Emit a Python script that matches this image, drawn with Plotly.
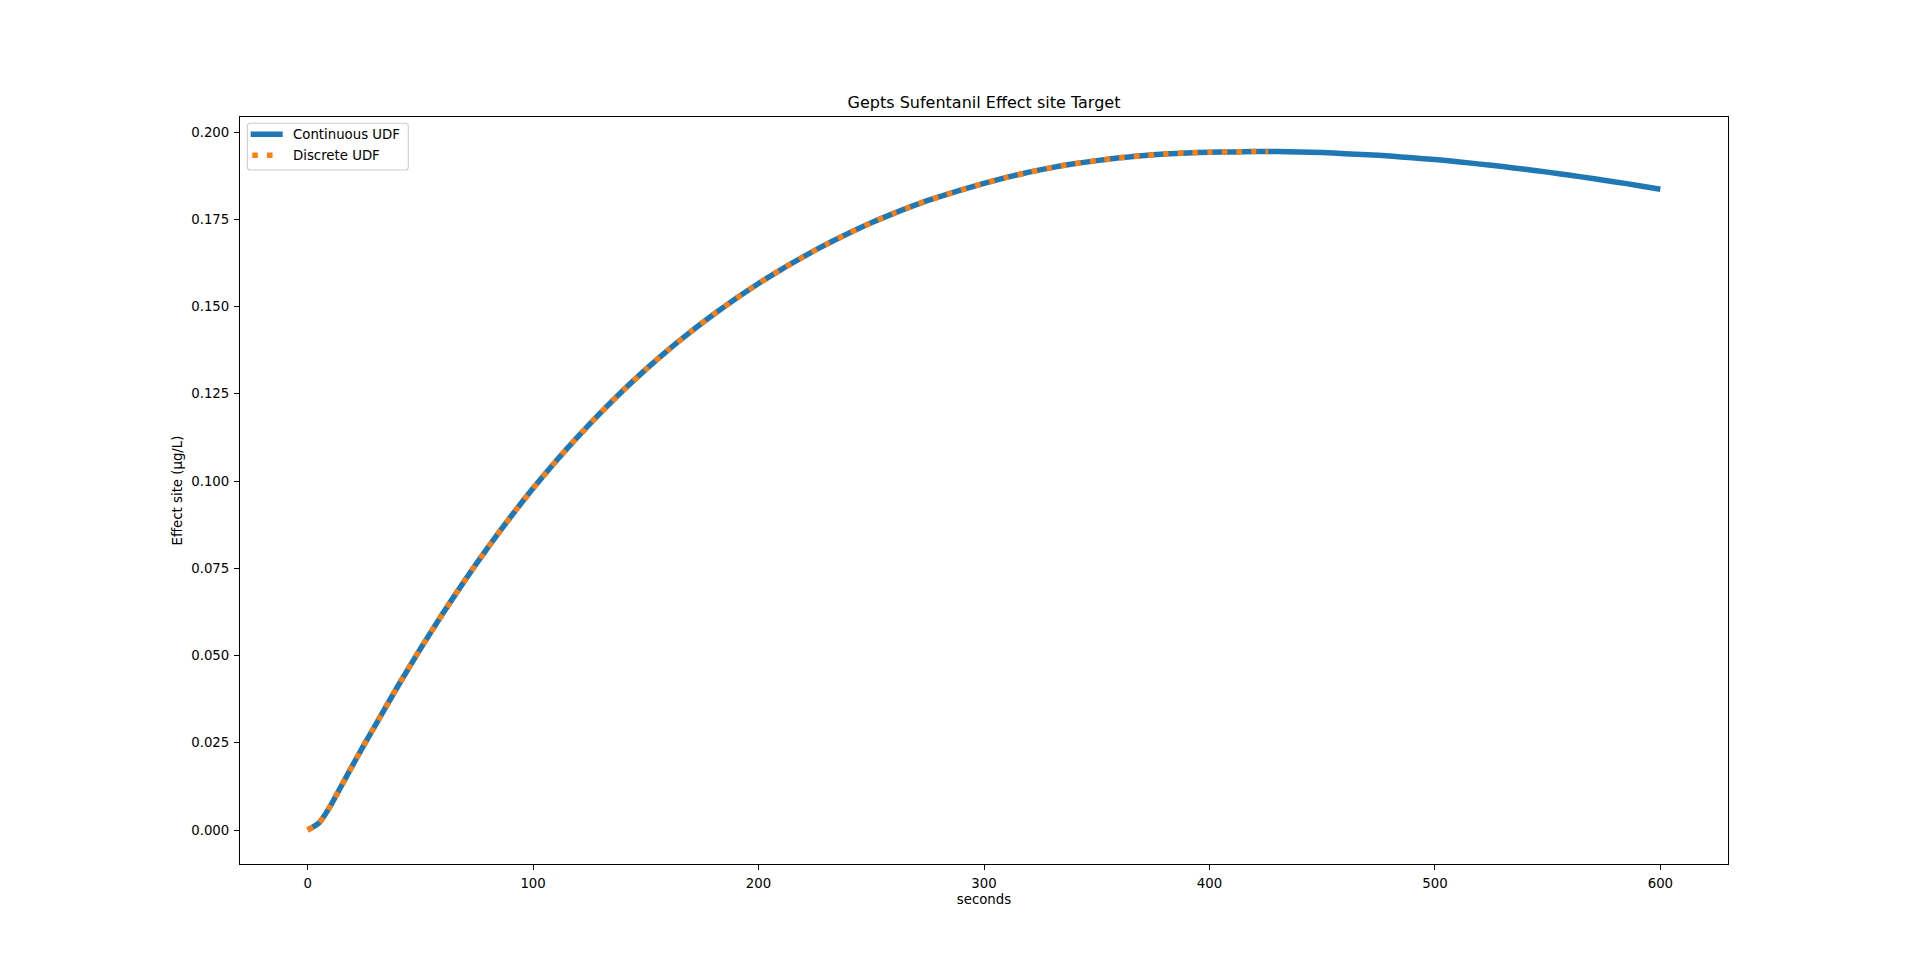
import plotly.graph_objects as go

# ---- data ----
cont_t = [0, 5, 10, 15, 20, 25, 30, 40, 50, 60, 70, 80, 90, 100, 110, 120, 130, 140, 150,
          160, 170, 180, 190, 200, 210, 220, 230, 240, 250, 260, 270, 280, 290, 300,
          310, 320, 330, 340, 350, 360, 370, 380, 390, 400, 410, 420, 430, 440, 450,
          460, 470, 480, 490, 500, 510, 520, 530, 540, 550, 560, 570, 580, 590, 600]
cont_c = [0.0, 0.0020, 0.0068, 0.0127, 0.0186, 0.0244, 0.0300, 0.0412, 0.0519, 0.0621,
          0.0718, 0.0810, 0.0897, 0.0979, 0.1056, 0.1128, 0.1196, 0.1260, 0.1320,
          0.1376, 0.1428, 0.1477, 0.1523, 0.1566, 0.1606, 0.1643, 0.1678, 0.1710, 0.1740,
          0.1767, 0.1792, 0.1814, 0.1834, 0.1853, 0.1870, 0.1885, 0.1898, 0.1909, 0.1918,
          0.1926, 0.1932, 0.1937, 0.1940, 0.1942, 0.1943, 0.1944, 0.1944, 0.1943, 0.1941,
          0.1938, 0.1935, 0.1931, 0.1926, 0.1921, 0.1915, 0.1908, 0.1901, 0.1893, 0.1885,
          0.1876, 0.1867, 0.1857, 0.1847, 0.1836]

disc_t = [0, 5, 10, 15, 20, 25, 30, 40, 50, 60, 70, 80, 90, 100, 110, 120, 130, 140, 150,
          160, 170, 180, 190, 200, 210, 220, 230, 240, 250, 260, 270, 280, 290, 300,
          310, 320, 330, 340, 350, 360, 370, 380, 390, 400, 410, 420, 426]
disc_c = [0.0, 0.0020, 0.0068, 0.0127, 0.0186, 0.0244, 0.0300, 0.0412, 0.0519, 0.0621,
          0.0718, 0.0810, 0.0897, 0.0979, 0.1056, 0.1128, 0.1196, 0.1260, 0.1320,
          0.1376, 0.1428, 0.1477, 0.1523, 0.1566, 0.1606, 0.1643, 0.1678, 0.1710, 0.1740,
          0.1767, 0.1792, 0.1814, 0.1834, 0.1853, 0.1870, 0.1885, 0.1898, 0.1909, 0.1918,
          0.1926, 0.1932, 0.1937, 0.1940, 0.1942, 0.1943, 0.1944, 0.1944]

x_ticks = [0, 100, 200, 300, 400, 500, 600]
y_ticks = [0.0, 0.025, 0.05, 0.075, 0.1, 0.125, 0.15, 0.175, 0.2]
y_tick_text = ["0.000", "0.025", "0.050", "0.075", "0.100", "0.125", "0.150", "0.175", "0.200"]

series_names = ["Continuous UDF", "Discrete UDF"]
title_text = "Gepts Sufentanil Effect site Target"
x_label = "seconds"
y_label = "Effect site (μg/L)"

FONT = "DejaVu Sans, Liberation Sans, sans-serif"
BLUE = "#1f77b4"
ORANGE = "#ff7f0e"
LW = 5.5
DOT = "5.5px,9.2px"

# plot-area geometry in pixels
W, H = 1920, 971
ML, MR, MT, MB = 240, 192, 117, 107
PW, PH = W - ML - MR, H - MT - MB


def px(xp):
    return (xp - ML) / PW


def py(yp):
    return (H - MB - yp) / PH


fig = go.Figure()
fig.add_trace(go.Scatter(
    x=cont_t, y=cont_c, mode="lines", name=series_names[0], showlegend=False,
    line=dict(color=BLUE, width=LW, shape="spline", smoothing=0.6, simplify=False),
))
fig.add_trace(go.Scatter(
    x=disc_t, y=disc_c, mode="lines", name=series_names[1], showlegend=False,
    line=dict(color=ORANGE, width=LW, dash=DOT, shape="spline", smoothing=0.6, simplify=False),
))

axis_common = dict(
    showline=True, linecolor="black", linewidth=1.1, mirror=True,
    ticks="outside", ticklen=5, tickwidth=1.1, tickcolor="black",
    showgrid=False, zeroline=False,
    tickfont=dict(family=FONT, size=13.3, color="black"),
)

# ---- matplotlib-style legend drawn with shapes/annotations ----
x0, x1, y0, y1 = 247.3, 408.3, 123.3, 170.0
r = 3.0
path = (
    f"M {px(x0 + r)},{py(y0)} L {px(x1 - r)},{py(y0)} "
    f"Q {px(x1)},{py(y0)} {px(x1)},{py(y0 + r)} "
    f"L {px(x1)},{py(y1 - r)} Q {px(x1)},{py(y1)} {px(x1 - r)},{py(y1)} "
    f"L {px(x0 + r)},{py(y1)} Q {px(x0)},{py(y1)} {px(x0)},{py(y1 - r)} "
    f"L {px(x0)},{py(y0 + r)} Q {px(x0)},{py(y0)} {px(x0 + r)},{py(y0)} Z"
)
shapes = [
    dict(type="path", xref="paper", yref="paper", path=path,
         line=dict(color="#cccccc", width=1.1), fillcolor="rgba(255,255,255,0.8)", layer="above"),
    dict(type="line", xref="paper", yref="paper",
         x0=px(250.7), x1=px(282.7), y0=py(134.3), y1=py(134.3),
         line=dict(color=BLUE, width=LW), layer="above"),
    dict(type="line", xref="paper", yref="paper",
         x0=px(252.3), x1=px(274.5), y0=py(155.3), y1=py(155.3),
         line=dict(color=ORANGE, width=LW, dash=DOT), layer="above"),
]
annotations = [
    dict(text=series_names[0], xref="paper", yref="paper", x=px(290.5), y=py(134.3),
         xanchor="left", yanchor="middle", showarrow=False,
         font=dict(family=FONT, size=13.3, color="black")),
    dict(text=series_names[1], xref="paper", yref="paper", x=px(290.5), y=py(155.3),
         xanchor="left", yanchor="middle", showarrow=False,
         font=dict(family=FONT, size=13.3, color="black")),
]

fig.update_layout(
    width=W, height=H,
    margin=dict(l=ML, r=MR, t=MT, b=MB),
    paper_bgcolor="white", plot_bgcolor="white",
    font=dict(family=FONT, size=13.3, color="black"),
    title=dict(text=title_text, x=0.5, xref="paper", xanchor="center",
               y=1 - 102 / H, yref="container", yanchor="middle",
               font=dict(family=FONT, size=16, color="black")),
    xaxis=dict(range=[-30, 630], tickvals=x_ticks,
               title=dict(text=x_label, standoff=4, font=dict(family=FONT, size=13.3)),
               ticklabelstandoff=2,
               **axis_common),
    yaxis=dict(range=[-0.00973, 0.2043], tickvals=y_ticks, ticktext=y_tick_text,
               title=dict(text=y_label, standoff=5, font=dict(family=FONT, size=13.3)),
               ticklabelstandoff=2,
               **axis_common),
    showlegend=False,
    shapes=shapes,
    annotations=annotations,
)

fig.write_html("out.html", config={"displayModeBar": False},
               post_script="document.body.style.margin='0';")
